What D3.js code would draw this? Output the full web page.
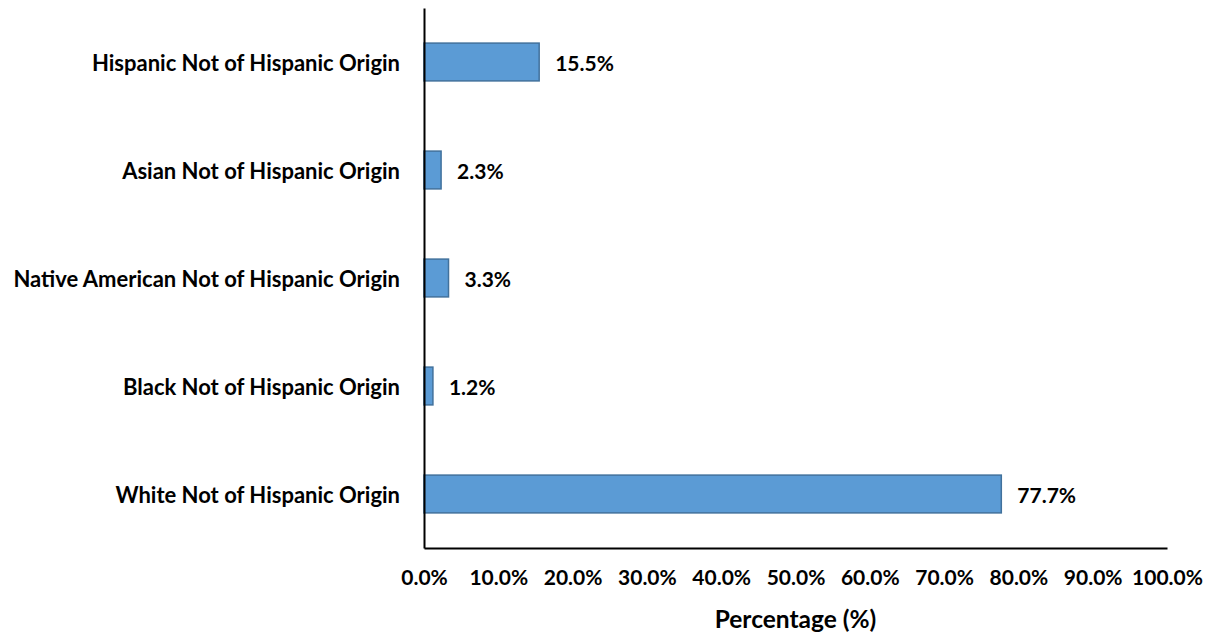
<!DOCTYPE html>
<html>
<head>
<meta charset="utf-8">
<script src="https://cdn.jsdelivr.net/npm/d3@7"></script>
<style>
    body { margin: 0; background: #fff; }
    svg text { font-family: Lato, "Open Sans", sans-serif; font-weight: bold; fill: #000; }
</style>
</head>
<body>
<svg id="chart" width="1212" height="633"></svg>
<script>
// chart data, top bar first
const categories = [
    'Hispanic Not of Hispanic Origin',
    'Asian Not of Hispanic Origin',
    'Native American Not of Hispanic Origin',
    'Black Not of Hispanic Origin',
    'White Not of Hispanic Origin'
];
const percentages = [15.5, 2.3, 3.3, 1.2, 77.7];
const xTicks = [0, 10, 20, 30, 40, 50, 60, 70, 80, 90, 100];
const xTitle = 'Percentage (%)';

const size = { left: 424, right: 1167, top: 8, bottom: 548 };

const svg = d3.select('#chart');

const scaleX = d3.scaleLinear()
    .domain([0, 100])
    .range([size.left, size.right]);

const scaleY = d3.scaleBand()
    .domain(categories)
    .range([size.top, size.bottom])
    .paddingInner(0.65)
    .paddingOuter(0.325);

const items = categories.map((c, i) => ({ name: c, value: percentages[i] }));

// bars
svg.selectAll('.bar')
    .data(items)
    .enter()
    .append('rect')
    .attr('class', 'bar')
    .attr('x', scaleX(0))
    .attr('y', d => scaleY(d.name))
    .attr('width', d => scaleX(d.value) - scaleX(0))
    .attr('height', scaleY.bandwidth())
    .attr('fill', '#5B9BD5')
    .attr('stroke', '#41719C')
    .attr('stroke-width', 1.5);

// value labels
svg.selectAll('.value')
    .data(items)
    .enter()
    .append('text')
    .attr('class', 'value')
    .attr('x', d => scaleX(d.value) + 16)
    .attr('y', d => scaleY(d.name) + scaleY.bandwidth() / 2 + 2)
    .attr('dy', '0.35em')
    .style('font-size', '21px')
    .text(d => d.value.toFixed(1) + '%');

// y axis
const yAxis = svg.append('g')
    .attr('transform', `translate(${size.left}, 0)`)
    .call(d3.axisLeft(scaleY).tickSize(0).tickPadding(24));
yAxis.select('.domain').attr('stroke', '#000').attr('stroke-width', 2);
yAxis.selectAll('text')
    .attr('dy', '0.42em')
    .style('font-size', '22px');

// x axis
const xAxis = svg.append('g')
    .attr('transform', `translate(0, ${size.bottom})`)
    .call(d3.axisBottom(scaleX)
        .tickValues(xTicks)
        .tickSize(0)
        .tickPadding(22)
        .tickFormat(d => d.toFixed(1) + '%'));
xAxis.select('.domain').attr('stroke', '#000').attr('stroke-width', 2);
xAxis.selectAll('text')
    .style('font-size', '21px');

svg.append('text')
    .attr('x', (size.left + size.right) / 2)
    .attr('y', 628)
    .attr('text-anchor', 'middle')
    .style('font-size', '24.5px')
    .text(xTitle);
</script>
</body>
</html>
